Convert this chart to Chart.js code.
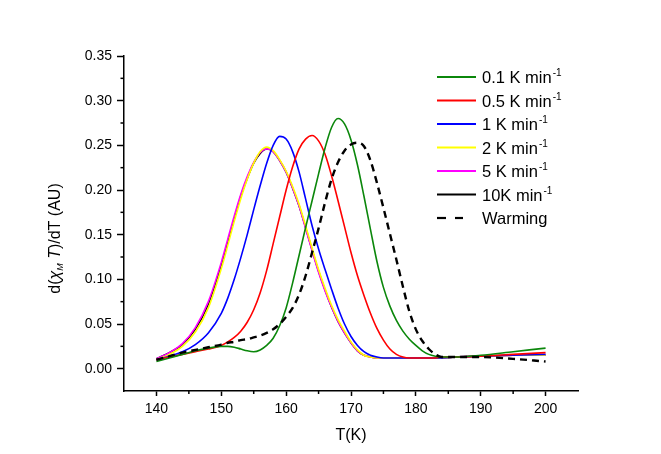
<!DOCTYPE html>
<html>
<head>
<meta charset="utf-8">
<script src="https://cdn.jsdelivr.net/npm/chart.js@4.4.1/dist/chart.umd.min.js"></script>
<style>
  html, body { margin: 0; padding: 0; background: #fff; }
  canvas { display: block; }
</style>
</head>
<body>
<canvas id="chart" width="661" height="454"></canvas>
<script>
// temperature grid (K)
const temps = [140, 142, 144, 146, 148,
  150, 151, 152, 153, 154, 155, 156, 157, 158, 159,
  160, 161, 162, 163, 164, 165, 166, 167, 168, 169,
  170, 171, 172, 173, 174, 175, 176, 177, 178, 179,
  180, 181, 182, 183, 184,
  186, 190, 195, 200];

const rate01 = [0.008, 0.012, 0.016, 0.020, 0.023,
  0.025, 0.025, 0.024, 0.022, 0.020, 0.019, 0.021, 0.026, 0.034, 0.048,
  0.068, 0.096, 0.127, 0.158, 0.188, 0.218, 0.247, 0.270, 0.280, 0.274,
  0.256, 0.228, 0.193, 0.156, 0.120, 0.091, 0.070, 0.054, 0.042, 0.033,
  0.026, 0.020, 0.016, 0.014, 0.013,
  0.013, 0.015, 0.019, 0.023];

const rate05 = [0.010, 0.013, 0.016, 0.019, 0.022,
  0.026, 0.030, 0.035, 0.042, 0.052, 0.066, 0.085, 0.110, 0.140, 0.170,
  0.200, 0.226, 0.246, 0.257, 0.261, 0.255, 0.240, 0.216, 0.188, 0.159,
  0.130, 0.104, 0.082, 0.062, 0.045, 0.032, 0.022, 0.016, 0.013, 0.012,
  0.012, 0.012, 0.012, 0.012, 0.013,
  0.013, 0.014, 0.016, 0.018];

const rate1 = [0.010, 0.014, 0.019, 0.027, 0.040,
  0.062, 0.079, 0.100, 0.124, 0.150, 0.178, 0.205, 0.230, 0.250, 0.260,
  0.257, 0.243, 0.220, 0.190, 0.160, 0.134, 0.111, 0.089, 0.068, 0.050,
  0.036, 0.026, 0.019, 0.015, 0.013, 0.012, 0.012, 0.012, 0.012, 0.012,
  0.012, 0.012, 0.012, 0.012, 0.012,
  0.013, 0.014, 0.015, 0.016];

const rate2 = [0.010, 0.016, 0.025, 0.041, 0.068,
  0.112, 0.138, 0.165, 0.190, 0.212, 0.230, 0.243, 0.248, 0.244, 0.234,
  0.221, 0.204, 0.184, 0.160, 0.135, 0.111, 0.090, 0.071, 0.055, 0.042,
  0.030, 0.021, 0.015, 0.013, 0.012, 0.012, 0.012, 0.012, 0.012, 0.012,
  0.012, 0.012, 0.012, 0.012, 0.012,
  0.013, 0.014, 0.015, 0.015];

const rate5 = [0.011, 0.018, 0.028, 0.046, 0.075,
  0.119, 0.145, 0.171, 0.195, 0.215, 0.231, 0.242, 0.246, 0.243, 0.233,
  0.220, 0.202, 0.182, 0.157, 0.132, 0.108, 0.087, 0.069, 0.053, 0.040,
  0.029, 0.020, 0.015, 0.013, 0.012, 0.012, 0.012, 0.012, 0.012, 0.012,
  0.012, 0.012, 0.012, 0.012, 0.012,
  0.013, 0.014, 0.015, 0.015];

const rate10 = [0.011, 0.018, 0.027, 0.044, 0.072,
  0.116, 0.142, 0.168, 0.193, 0.213, 0.230, 0.241, 0.246, 0.243, 0.233,
  0.220, 0.202, 0.182, 0.158, 0.133, 0.109, 0.088, 0.069, 0.053, 0.040,
  0.029, 0.020, 0.015, 0.013, 0.012, 0.012, 0.012, 0.012, 0.012, 0.012,
  0.012, 0.012, 0.012, 0.012, 0.012,
  0.013, 0.014, 0.015, 0.015];

const warming = [0.010, 0.014, 0.018, 0.021, 0.024,
  0.027, 0.029, 0.030, 0.032, 0.033, 0.035, 0.037, 0.040, 0.044, 0.050,
  0.058, 0.068, 0.083, 0.104, 0.130, 0.157, 0.186, 0.212, 0.231, 0.244,
  0.251, 0.253, 0.249, 0.233, 0.208, 0.180, 0.151, 0.122, 0.092, 0.064,
  0.044, 0.031, 0.022, 0.016, 0.013,
  0.013, 0.013, 0.011, 0.008];

const seriesLabels = ['0.1 K min', '0.5 K min', '1 K min', '2 K min', '5 K min', '10K min', 'Warming'];
const seriesSup = ['-1', '-1', '-1', '-1', '-1', '-1', ''];
const seriesColors = ['#0b870b', '#ff0000', '#0000ff', '#ffff00', '#ff00ff', '#000000', '#000000'];

const xTicks = [140, 150, 160, 170, 180, 190, 200];
const xMinorTicks = [145, 155, 165, 175, 185, 195];
const yTicks = [0, 0.05, 0.10, 0.15, 0.20, 0.25, 0.30, 0.35];
const yMinorTicks = [0.025, 0.075, 0.125, 0.175, 0.225, 0.275, 0.325];

const FONT = '"Liberation Sans", Arial, sans-serif';

const toPoints = (values) => temps.map((t, i) => ({ x: t, y: values[i] }));

// minor tick marks on both axes
const minorTicks = {
    id: 'minorTicks',
    afterDraw(chart) {
        const { ctx, chartArea, scales } = chart;
        ctx.save();
        ctx.strokeStyle = '#000';
        ctx.lineWidth = 1.5;
        xMinorTicks.forEach(v => {
            const px = scales.x.getPixelForValue(v);
            ctx.beginPath();
            ctx.moveTo(px, chartArea.bottom);
            ctx.lineTo(px, chartArea.bottom + 3);
            ctx.stroke();
        });
        yMinorTicks.forEach(v => {
            const py = scales.y.getPixelForValue(v);
            ctx.beginPath();
            ctx.moveTo(chartArea.left, py);
            ctx.lineTo(chartArea.left - 3.5, py);
            ctx.stroke();
        });
        ctx.restore();
    }
};

// y title with italic chi, subscript M
const yTitle = {
    id: 'yTitle',
    afterDraw(chart) {
        const ctx = chart.ctx;
        const parts = [
            { t: 'd(', f: '16px ' + FONT, dy: 0 },
            { t: '\u03C7', f: 'italic 16px ' + FONT, dy: 0 },
            { t: 'M', f: 'italic 9px ' + FONT, dy: 3 },
            { t: ' T', f: 'italic 16px ' + FONT, dy: 0 },
            { t: ')/dT (AU)', f: '16px ' + FONT, dy: 0 }
        ];
        ctx.save();
        let total = 0;
        parts.forEach(p => { ctx.font = p.f; p.w = ctx.measureText(p.t).width; total += p.w; });
        ctx.translate(60, 238.5);
        ctx.rotate(-Math.PI / 2);
        ctx.fillStyle = '#000';
        ctx.textBaseline = 'alphabetic';
        let x = -total / 2;
        parts.forEach(p => {
            ctx.font = p.f;
            ctx.fillText(p.t, x, p.dy);
            x += p.w;
        });
        ctx.restore();
    }
};

// legend with superscripts
const rateLegend = {
    id: 'rateLegend',
    afterDraw(chart) {
        const ctx = chart.ctx;
        ctx.save();
        chart.data.datasets.forEach((ds, i) => {
            const y = 77 + i * 23.5;
            const dashed = !!ds.borderDash;
            ctx.strokeStyle = ds.borderColor;
            ctx.lineWidth = dashed ? 2.2 : 1.8;
            ctx.setLineDash(dashed ? [9, 9] : []);
            ctx.beginPath();
            ctx.moveTo(437, y);
            ctx.lineTo(dashed ? 463 : 476, y);
            ctx.stroke();
            ctx.setLineDash([]);
            ctx.fillStyle = '#000';
            ctx.textBaseline = 'alphabetic';
            ctx.font = '16.5px ' + FONT;
            ctx.fillText(seriesLabels[i], 482, y + 6);
            if (seriesSup[i]) {
                const w = ctx.measureText(seriesLabels[i]).width;
                ctx.font = '10px ' + FONT;
                ctx.fillText(seriesSup[i], 482 + w + 1, y - 1);
            }
        });
        ctx.restore();
    }
};

const makeLine = (i, values, order, extra) => Object.assign({
    label: seriesLabels[i],
    data: toPoints(values),
    borderColor: seriesColors[i],
    backgroundColor: seriesColors[i],
    borderWidth: 1.6,
    pointRadius: 0,
    cubicInterpolationMode: 'monotone',
    fill: false,
    order: order
}, extra || {});

new Chart(document.getElementById('chart').getContext('2d'), {
    type: 'line',
    data: {
        datasets: [
            makeLine(0, rate01, 1),
            makeLine(1, rate05, 2),
            makeLine(2, rate1, 3),
            makeLine(3, rate2, 4),
            makeLine(4, rate5, 5),
            makeLine(5, rate10, 6),
            makeLine(6, warming, 0, { borderDash: [7, 5], borderWidth: 2.4 })
        ]
    },
    options: {
        responsive: false,
        animation: false,
        devicePixelRatio: 1,
        layout: { padding: { top: 56, right: 83, left: 0, bottom: 0 } },
        plugins: {
            legend: { display: false },
            tooltip: { enabled: false }
        },
        scales: {
            x: {
                type: 'linear',
                min: 135,
                max: 205,
                afterBuildTicks: (scale) => { scale.ticks = xTicks.map(v => ({ value: v })); },
                afterFit: (scale) => { scale.height = 63; },
                ticks: { color: '#000', font: { family: FONT, size: 14 }, padding: 5, maxRotation: 0 },
                grid: { drawOnChartArea: false, drawTicks: true, tickLength: 5, tickColor: '#000', tickWidth: 1.5 },
                border: { color: '#000', width: 1.5 },
                title: { display: true, text: 'T(K)', color: '#000', font: { family: FONT, size: 16 }, padding: { top: 4, bottom: 9 } }
            },
            y: {
                type: 'linear',
                min: -0.025,
                max: 0.35,
                afterBuildTicks: (scale) => { scale.ticks = yTicks.map(v => ({ value: v })); },
                afterFit: (scale) => { scale.width = 124; },
                ticks: { color: '#000', font: { family: FONT, size: 14 }, padding: 5, callback: (v) => v.toFixed(2) },
                grid: { drawOnChartArea: false, drawTicks: true, tickLength: 7, tickColor: '#000', tickWidth: 1.5 },
                border: { color: '#000', width: 1.5 }
            }
        }
    },
    plugins: [minorTicks, yTitle, rateLegend]
});
</script>
</body>
</html>
